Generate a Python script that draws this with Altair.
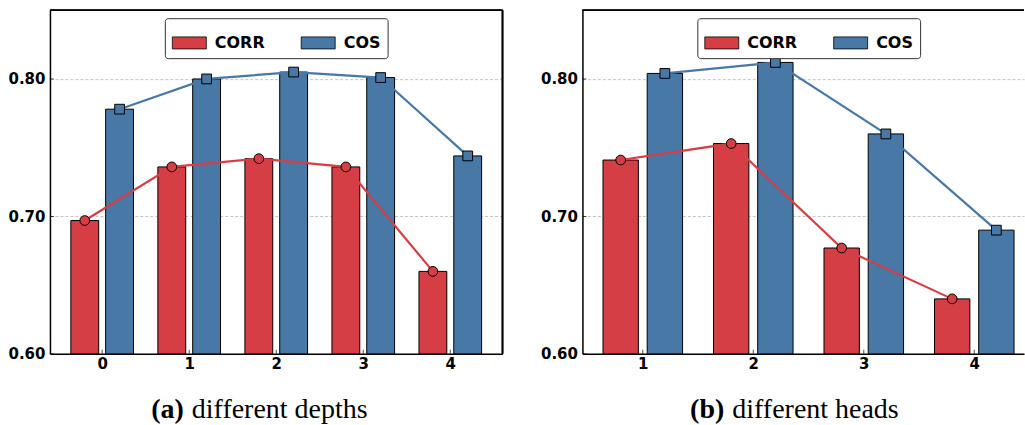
import altair as alt
import pandas as pd

# ---- data ----
series = ["CORR", "COS"]
colors = ["#d63e45", "#4878a6"]
y_ticks = [0.60, 0.70, 0.80]

depth_ticks = [0, 1, 2, 3, 4]
depth_corr = [0.697, 0.736, 0.742, 0.736, 0.660]
depth_cos = [0.778, 0.800, 0.805, 0.801, 0.744]

head_ticks = [1, 2, 3, 4]
head_corr = [0.741, 0.753, 0.677, 0.640]
head_cos = [0.804, 0.812, 0.760, 0.690]

caption_tags = ["(a)", "(b)"]
caption_texts = ["different depths", "different heads"]

OFFSETS = {"CORR": -0.2, "COS": 0.2}
HALF_W = 0.16
SANS = "DejaVu Sans"
SERIF = "Liberation Serif"
H = 344


def make_df(ticks, corr, cos):
    rows = []
    for s, vals in zip(series, [corr, cos]):
        for t, v in zip(ticks, vals):
            rows.append({"k": t, "series": s, "value": v, "off": OFFSETS[s]})
    return pd.DataFrame(rows)


def panel(df, ticks, xdom, width, tag, text, tag_right, text_left, right_border):
    xs = alt.Scale(domain=xdom, nice=False, zero=False)
    ys = alt.Scale(domain=[0.6, 0.85], nice=False, zero=False)
    xaxis = alt.Axis(values=ticks, format="d", labelFont=SANS, labelFontWeight="bold",
                     labelFontSize=15, labelColor="black", labelPadding=3, ticks=False,
                     grid=False, domain=True, domainColor="black", domainWidth=1.5)
    yaxis = alt.Axis(values=y_ticks, format=".2f", labelFont=SANS, labelFontWeight="bold",
                     labelFontSize=15, labelColor="black", labelPadding=5, ticks=False,
                     grid=True, gridColor="#b5b5b5", gridDash=[3, 2], gridWidth=0.8,
                     domain=True, domainColor="black", domainWidth=1.5,
                     minExtent=50, maxExtent=50)

    def X(f):
        return alt.X(f, scale=xs, title=None, axis=xaxis)

    def Y(f):
        return alt.Y(f, scale=ys, title=None, axis=yaxis)

    base = alt.Chart(df).transform_calculate(
        xc="datum.k + datum.off",
        x0="datum.k + datum.off - %f" % HALF_W,
        x1="datum.k + datum.off + %f" % HALF_W,
    )
    bars = base.mark_bar(stroke="black", strokeWidth=1, opacity=1).encode(
        x=X("x0:Q"),
        x2="x1:Q",
        y=Y("value:Q"),
        y2=alt.datum(0.6),
        color=alt.Color("series:N", scale=alt.Scale(domain=series, range=colors), sort=series,
                        legend=alt.Legend(title=None, orient="none", legendX=115, legendY=8,
                                          direction="horizontal",
                                          symbolType="M-1,-0.353H1V0.353H-1Z", symbolSize=1156,
                                          symbolStrokeColor="black", symbolStrokeWidth=0.8,
                                          symbolOpacity=1,
                                          labelFont=SANS, labelFontWeight="bold", labelFontSize=16,
                                          labelColor="black", labelOffset=8, columnPadding=34,
                                          padding=7, strokeColor="#333333", fillColor="white",
                                          cornerRadius=3)),
    )
    layers = [bars]
    for s, c in zip(series, colors):
        sub = base.transform_filter(alt.datum.series == s)
        layers.append(sub.mark_line(color=c, strokeWidth=2.2).encode(x=X("xc:Q"), y=Y("value:Q")))
    for s, c, shape in zip(series, colors, ["circle", "square"]):
        sub = base.transform_filter(alt.datum.series == s)
        layers.append(sub.mark_point(shape=shape, filled=True, fill=c, stroke="black",
                                     strokeWidth=1, size=95, opacity=1).encode(
            x=X("xc:Q"), y=Y("value:Q")))
    # inward ticks
    tdf = pd.DataFrame({"k": ticks})
    layers.append(alt.Chart(tdf).mark_tick(orient="vertical", size=8, thickness=1,
                                           color="black", clip=True).encode(
        x=X("k:Q"), y=alt.datum(0.6)))
    ydf = pd.DataFrame({"v": y_ticks})
    layers.append(alt.Chart(ydf).mark_tick(orient="horizontal", size=8, thickness=1,
                                           color="black", clip=True).encode(
        y=Y("v:Q"), x=alt.datum(xdom[0])))
    # frame: top (and right)
    layers.append(alt.Chart(ydf).mark_rule(color="black", strokeWidth=1.5).encode(
        y=alt.datum(0.85)))
    if right_border:
        layers.append(alt.Chart(ydf).mark_rule(color="black", strokeWidth=1.5).encode(
            x=alt.datum(xdom[1])))
    cdf = pd.DataFrame({"tag": [tag], "text": [text]})
    layers.append(alt.Chart(cdf).mark_text(align="right", baseline="alphabetic", font=SERIF,
                                           fontSize=28, fontWeight="bold", color="black").encode(
        x=alt.value(tag_right), y=alt.value(408), text="tag:N"))
    layers.append(alt.Chart(cdf).mark_text(align="left", baseline="alphabetic", font=SERIF,
                                           fontSize=28, color="black").encode(
        x=alt.value(text_left), y=alt.value(408), text="text:N"))
    return alt.layer(*layers).properties(width=width, height=H)


pa = panel(make_df(depth_ticks, depth_corr, depth_cos), depth_ticks, [-0.6, 4.6], 453,
           caption_tags[0], caption_texts[0], 134, 142, True)
pb = panel(make_df(head_ticks, head_corr, head_cos), head_ticks, [0.454, 4.45], 442,
           caption_tags[1], caption_texts[1], 142, 150, False)

chart = alt.hconcat(pa, pb, spacing=29).resolve_legend(color="independent").properties(
    padding={"top": 9, "left": 0, "right": 0, "bottom": 0}
).configure_view(stroke=None)

chart.save("out.html", embed_options={"renderer": "svg", "actions": False})
